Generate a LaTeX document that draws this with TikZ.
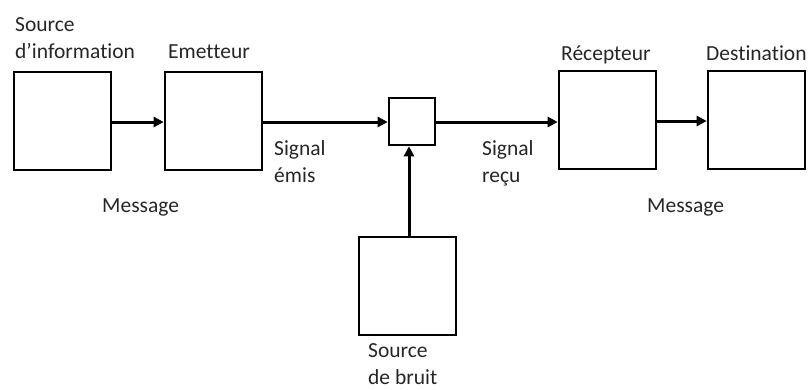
\documentclass[tikz,border=0pt]{standalone}
\usepackage{fontspec}
\setmainfont{Carlito}[Ligatures={NoCommon}]
\usetikzlibrary{arrows.meta}
\begin{document}
\begin{tikzpicture}[x=1pt,y=-1pt,
  bigbox/.style={draw,line width=2.6pt,minimum width=97pt,minimum height=98pt,inner sep=0pt},
  smallbox/.style={draw,line width=2.6pt,minimum width=46pt,minimum height=47pt,inner sep=0pt},
  conn/.style={line width=3pt,-{Triangle[length=10pt,width=10pt]}},
  lbl/.style={font=\fontsize{21.5}{27}\selectfont,text=black!85,inner sep=0pt,anchor=base west,align=left}]
\useasboundingbox (0,0) rectangle (811,389);
\node[bigbox] (src) at (62.5,121) {};
\node[bigbox] (em) at (213.5,121) {};
\node[smallbox] (mix) at (412,121.5) {};
\node[bigbox] (rec) at (607.5,120) {};
\node[bigbox] (dst) at (756.5,120) {};
\node[bigbox] (noise) at (407.5,286) {};
\draw[conn] (src.east |- 0,122) -- (em.west |- 0,122);
\draw[conn] (em.east |- 0,122) -- (mix.west |- 0,122);
\draw[conn] (mix.east |- 0,122) -- (rec.west |- 0,122);
\draw[conn] (rec.east |- 0,121) -- (dst.west |- 0,121);
\draw[conn] (noise.north -| 409,0) -- (mix.south -| 409,0);
\node[lbl] (tsrc) at (15,58) {Source\\d’information};
\node[lbl] (tem) at (168,58) {Emetteur};
\node[lbl] (tmsg1) at (102,212) {Message};
\node[lbl] (temis) at (274,182) {Signal\\émis};
\node[lbl] (trecu) at (482,182) {Signal\\reçu};
\node[lbl] (trec) at (561,60) {Récepteur};
\node[lbl] (tdst) at (706,60) {Destination};
\node[lbl] (tmsg2) at (647,212) {Message};
\node[lbl] (tnoise) at (368,384) {Source\\de bruit};
\end{tikzpicture}
\end{document}
